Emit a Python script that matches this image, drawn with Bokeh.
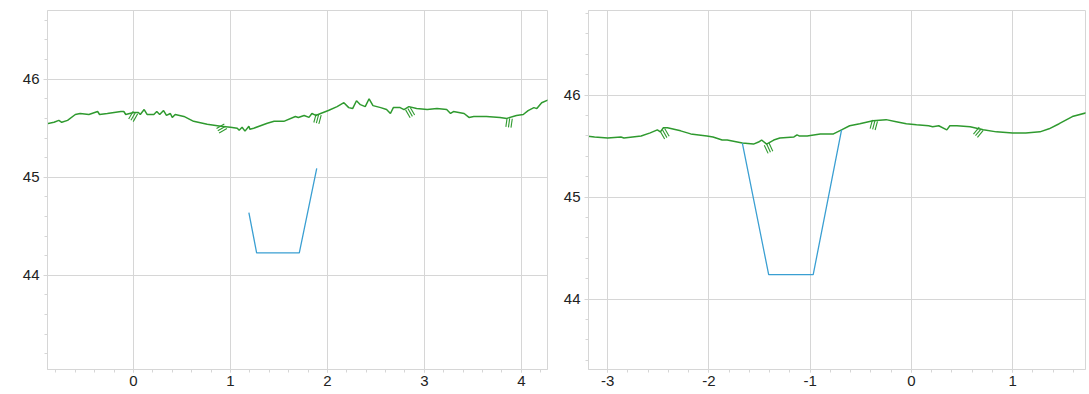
import math
from bokeh.plotting import figure
from bokeh.layouts import row
from bokeh.embed import file_html
from bokeh.resources import INLINE
from bokeh.models import Range1d, SingleIntervalTicker, CustomJSTickFormatter

# ---------------- data: left panel ----------------
left_ground_x = [-1.29, -1.25, -1.20, -1.03, -0.82, -0.77, -0.74, -0.68, -0.60, -0.55,
                 -0.46, -0.37, -0.35, -0.27, -0.13, -0.10, -0.08, 0.00, 0.05, 0.07,
                 0.11, 0.14, 0.21, 0.24, 0.27, 0.31, 0.34, 0.38, 0.40, 0.43,
                 0.52, 0.62, 0.76, 0.90, 1.00, 1.07, 1.09, 1.12, 1.15, 1.19,
                 1.20, 1.24, 1.38, 1.45, 1.55, 1.67, 1.70, 1.76, 1.81, 1.84,
                 1.88, 1.93, 2.01, 2.10, 2.17, 2.22, 2.26, 2.30, 2.34, 2.39,
                 2.43, 2.47, 2.55, 2.61, 2.65, 2.68, 2.75, 2.79, 2.84, 2.92,
                 3.03, 3.13, 3.23, 3.27, 3.30, 3.41, 3.46, 3.51, 3.64, 3.78,
                 3.85, 3.95, 4.02, 4.07, 4.13, 4.16, 4.21, 4.28, 4.38]
left_ground_y = [45.50, 45.53, 45.49, 45.52, 45.56, 45.58, 45.56, 45.58, 45.64, 45.65,
                 45.64, 45.67, 45.64, 45.65, 45.67, 45.67, 45.64, 45.66, 45.66, 45.64,
                 45.69, 45.64, 45.64, 45.67, 45.64, 45.68, 45.63, 45.65, 45.61, 45.64,
                 45.62, 45.57, 45.54, 45.52, 45.51, 45.50, 45.48, 45.51, 45.47, 45.52,
                 45.49, 45.50, 45.55, 45.57, 45.57, 45.62, 45.61, 45.63, 45.61, 45.65,
                 45.63, 45.65, 45.68, 45.72, 45.76, 45.71, 45.70, 45.78, 45.74, 45.72,
                 45.80, 45.73, 45.71, 45.69, 45.65, 45.71, 45.71, 45.69, 45.72, 45.70,
                 45.69, 45.70, 45.69, 45.65, 45.67, 45.65, 45.61, 45.62, 45.62, 45.61,
                 45.60, 45.63, 45.64, 45.68, 45.71, 45.70, 45.76, 45.79, 45.81]
left_channel_x = [1.19, 1.27, 1.71, 1.89]
left_channel_y = [44.64, 44.23, 44.23, 45.09]
left_hatch_x = [-1.03, 0.02, 0.95, 1.91, 2.83, 3.88]
left_hatch_y = [45.52, 45.66, 45.52, 45.64, 45.70, 45.60]
left_hatch_angle = [5, 30, 60, 15, -30, 8]

# ---------------- data: right panel ----------------
right_ground_x = [-3.48, -3.36, -3.32, -3.29, -3.23, -3.13, -3.00, -2.87, -2.84, -2.67,
                  -2.58, -2.51, -2.48, -2.45, -2.41, -2.28, -2.18, -2.02, -1.96, -1.87,
                  -1.82, -1.67, -1.56, -1.51, -1.48, -1.43, -1.36, -1.30, -1.16, -1.13,
                  -1.11, -1.03, -0.90, -0.77, -0.69, -0.61, -0.51, -0.38, -0.25, -0.15,
                  -0.05, 0.05, 0.17, 0.21, 0.27, 0.35, 0.38, 0.45, 0.58, 0.71,
                  0.84, 1.00, 1.13, 1.27, 1.36, 1.46, 1.59, 1.74]
right_ground_y = [45.61, 45.61, 45.60, 45.61, 45.60, 45.59, 45.58, 45.59, 45.58, 45.60,
                  45.63, 45.66, 45.64, 45.68, 45.68, 45.65, 45.62, 45.60, 45.59, 45.56,
                  45.56, 45.53, 45.52, 45.54, 45.56, 45.52, 45.56, 45.58, 45.59, 45.61,
                  45.60, 45.60, 45.62, 45.62, 45.66, 45.70, 45.72, 45.75, 45.76, 45.74,
                  45.72, 45.71, 45.70, 45.69, 45.70, 45.66, 45.70, 45.70, 45.69, 45.66,
                  45.64, 45.63, 45.63, 45.64, 45.67, 45.72, 45.79, 45.83]
right_channel_x = [-1.67, -1.41, -0.97, -0.69]
right_channel_y = [45.53, 44.24, 44.24, 45.66]
right_hatch_x = [-2.46, -1.43, -0.36, 0.69]
right_hatch_y = [45.66, 45.52, 45.75, 45.67]
right_hatch_angle = [-30, -25, 15, 40]

GREEN = "#2f9a2f"
BLUE = "#3a9fd2"
GRID = "#d6d6d6"
FONT = "Liberation Sans"


def hatch_segments(hx, hy, ha, sx, sy, length=9.0, gap=2.6):
    x0, y0, x1, y1 = [], [], [], []
    for x, y, a in zip(hx, hy, ha):
        r = math.radians(a)
        dxp, dyp = -math.sin(r) * length, -math.cos(r) * length
        px, py = math.cos(r), -math.sin(r)
        for k in (-1, 0, 1):
            ox, oy = px * gap * k, py * gap * k
            x0.append(x + ox / sx)
            y0.append(y + oy / sy)
            x1.append(x + (ox + dxp) / sx)
            y1.append(y + (oy + dyp) / sy)
    return x0, y0, x1, y1


def make_panel(fw, fh, xr, yr, bl, br, bt, bb, gx, gy, cx, cy, hx, hy, ha):
    p = figure(frame_width=fw, frame_height=fh, output_backend="svg", toolbar_location=None,
               x_range=Range1d(*xr), y_range=Range1d(*yr),
               min_border_left=bl, min_border_right=br, min_border_top=bt,
               min_border_bottom=bb)
    p.outline_line_color = GRID
    p.background_fill_color = "white"
    p.border_fill_color = "white"
    for ax in (p.xaxis, p.yaxis):
        ax.ticker = SingleIntervalTicker(interval=1, num_minor_ticks=5)
        ax.formatter = CustomJSTickFormatter(code="return tick.toFixed(0);")
        ax.axis_line_color = GRID
        ax.major_tick_line_color = GRID
        ax.minor_tick_line_color = GRID
        ax.major_tick_out = 4
        ax.major_tick_in = 0
        ax.minor_tick_out = 3
        ax.minor_tick_in = 0
        ax.major_label_text_font = FONT
        ax.major_label_text_font_size = "15px"
        ax.major_label_text_color = "#222222"
    p.xaxis.major_tick_out = 3
    p.xaxis.major_label_standoff = 3
    p.yaxis.major_label_standoff = 4
    p.xgrid.ticker = SingleIntervalTicker(interval=1)
    p.ygrid.ticker = SingleIntervalTicker(interval=1)
    p.xgrid.grid_line_color = GRID
    p.ygrid.grid_line_color = GRID

    p.line(gx, gy, line_color=GREEN, line_width=1.5)
    p.line(cx, cy, line_color=BLUE, line_width=1.3)

    sx = fw / (xr[1] - xr[0])
    sy = fh / (yr[1] - yr[0])
    x0, y0, x1, y1 = hatch_segments(hx, hy, ha, sx, sy)
    p.segment(x0, y0, x1, y1, line_color=GREEN, line_width=1.1)
    return p


left = make_panel(500, 359, (-0.887, 4.27), (43.04, 46.70), 47, 3, 10, 22,
                  left_ground_x, left_ground_y, left_channel_x, left_channel_y,
                  left_hatch_x, left_hatch_y, left_hatch_angle)
right = make_panel(497, 359, (-3.19, 1.72), (43.31, 46.83), 38, 3, 10, 22,
                   right_ground_x, right_ground_y, right_channel_x, right_channel_y,
                   right_hatch_x, right_hatch_y, right_hatch_angle)

layout = row(left, right, spacing=0)
open("out.html", "w").write(file_html(layout, INLINE))
